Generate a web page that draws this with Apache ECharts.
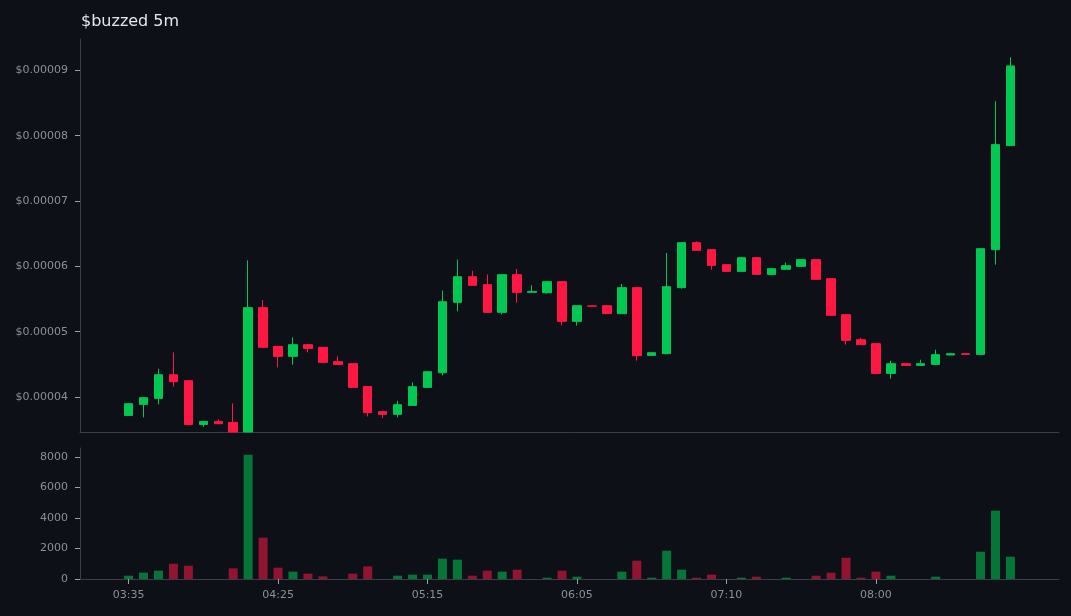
<!DOCTYPE html>
<html><head><meta charset="utf-8">
<script src="https://cdn.jsdelivr.net/npm/echarts@6/dist/echarts.min.js"></script>
<style>html,body{margin:0;padding:0;background:#0d1017;}#c{width:1071px;height:616px;}</style>
</head><body><div id="c"></div>
<script>
const times = ['03:35','03:40','03:45','03:50','03:55','04:00','04:05','04:10','04:15','04:20',
  '04:25','04:30','04:35','04:40','04:45','04:50','04:55','05:00','05:05','05:10',
  '05:15','05:20','05:25','05:30','05:35','05:40','05:45','05:50','05:55','06:00',
  '06:05','06:10','06:15','06:20','06:25','06:35','06:40','06:45','06:55','07:00',
  '07:10','07:15','07:20','07:25','07:30','07:35','07:40','07:45','07:50','07:55',
  '08:00','08:05','08:10','08:15','08:20','08:25','08:30','08:35','08:40','08:45'];
const opens = [3.718e-5,3.887e-5,3.979e-5,4.341e-5,4.250e-5,3.580e-5,3.626e-5,3.611e-5,3.464e-5,5.368e-5,
  4.775e-5,4.622e-5,4.801e-5,4.760e-5,4.541e-5,4.510e-5,4.162e-5,3.775e-5,3.734e-5,3.871e-5,
  4.147e-5,4.372e-5,5.449e-5,5.842e-5,5.720e-5,5.296e-5,5.873e-5,5.602e-5,5.597e-5,5.766e-5,
  5.158e-5,5.395e-5,5.398e-5,5.276e-5,5.674e-5,4.637e-5,4.663e-5,5.674e-5,6.363e-5,6.256e-5,
  6.026e-5,5.923e-5,6.133e-5,5.877e-5,5.954e-5,6.000e-5,6.103e-5,5.812e-5,5.260e-5,4.877e-5,
  4.816e-5,4.361e-5,4.510e-5,4.484e-5,4.499e-5,4.643e-5,4.663e-5,4.652e-5,6.256e-5,7.848e-5];
const highs = [3.900e-5,3.990e-5,4.433e-5,4.683e-5,4.252e-5,3.628e-5,3.657e-5,3.902e-5,6.092e-5,5.485e-5,
  4.777e-5,4.913e-5,4.816e-5,4.762e-5,4.622e-5,4.512e-5,4.164e-5,3.777e-5,3.943e-5,4.224e-5,
  4.389e-5,5.632e-5,6.103e-5,5.934e-5,5.877e-5,5.875e-5,5.960e-5,5.709e-5,5.768e-5,5.768e-5,
  5.400e-5,5.397e-5,5.400e-5,5.730e-5,5.676e-5,4.680e-5,6.205e-5,6.365e-5,6.383e-5,6.258e-5,
  6.028e-5,6.135e-5,6.135e-5,5.967e-5,6.061e-5,6.105e-5,6.105e-5,5.814e-5,5.262e-5,4.904e-5,
  4.818e-5,4.556e-5,4.512e-5,4.571e-5,4.724e-5,4.665e-5,4.665e-5,6.273e-5,8.527e-5,9.201e-5];
const lows = [3.715e-5,3.688e-5,3.887e-5,4.158e-5,3.578e-5,3.545e-5,3.585e-5,3.464e-5,3.464e-5,4.758e-5,
  4.453e-5,4.495e-5,4.683e-5,4.528e-5,4.497e-5,4.145e-5,3.702e-5,3.678e-5,3.688e-5,3.869e-5,
  4.145e-5,4.331e-5,5.311e-5,5.707e-5,5.294e-5,5.265e-5,5.444e-5,5.600e-5,5.582e-5,5.096e-5,
  5.092e-5,5.388e-5,5.274e-5,5.274e-5,4.556e-5,4.635e-5,4.661e-5,5.658e-5,6.243e-5,5.949e-5,
  5.921e-5,5.921e-5,5.875e-5,5.875e-5,5.952e-5,5.998e-5,5.799e-5,5.248e-5,4.801e-5,4.799e-5,
  4.359e-5,4.280e-5,4.482e-5,4.482e-5,4.497e-5,4.641e-5,4.650e-5,4.650e-5,6.026e-5,7.846e-5];
const closes = [3.897e-5,3.989e-5,4.341e-5,4.234e-5,3.580e-5,3.626e-5,3.591e-5,3.464e-5,5.368e-5,4.760e-5,
  4.622e-5,4.801e-5,4.744e-5,4.530e-5,4.499e-5,4.147e-5,3.760e-5,3.734e-5,3.882e-5,4.158e-5,
  4.387e-5,5.459e-5,5.842e-5,5.709e-5,5.296e-5,5.873e-5,5.602e-5,5.617e-5,5.766e-5,5.158e-5,
  5.398e-5,5.390e-5,5.276e-5,5.674e-5,4.632e-5,4.678e-5,5.689e-5,6.363e-5,6.245e-5,6.015e-5,
  5.923e-5,6.133e-5,5.877e-5,5.965e-5,6.011e-5,6.103e-5,5.801e-5,5.250e-5,4.867e-5,4.801e-5,
  4.361e-5,4.510e-5,4.484e-5,4.510e-5,4.648e-5,4.663e-5,4.652e-5,6.271e-5,7.864e-5,9.069e-5];
const volumes = [218,415,546,1005,874,0,0,699,8150,2710,
  743,481,350,175,0,350,830,0,218,284,
  284,1333,1268,218,546,481,612,0,87,546,
  153,0,0,481,1200,87,1856,612,87,284,
  0,87,153,0,87,0,218,415,1398,87,
  481,218,0,0,153,0,0,1790,4480,1462];
const priceTicks = [0.00004,0.00005,0.00006,0.00007,0.00008,0.00009];
const volumeTicks = [0,2000,4000,6000,8000];
const timeTickIndex = [0,10,20,30,40,50];

const UP = '#00c853', DOWN = '#ff1744';
const UP_VOL = '#067538', DOWN_VOL = '#921430';
const LABEL = '#8b8f97', LINE = '#3a3e46', FONT = 'DejaVu Sans';

const candleData = times.map((t, i) => [i, opens[i], closes[i], lows[i], highs[i]]);
const volData = times.map((t, i) => ({
  value: [i, volumes[i]],
  itemStyle: { color: closes[i] >= opens[i] ? UP_VOL : DOWN_VOL }
}));
const lastClose = closes[closes.length - 1];

const chart = echarts.init(document.getElementById('c'), null, { renderer: 'canvas' });
chart.setOption({
  backgroundColor: '#0d1017',
  animation: false,
  title: { text: '$buzzed 5m', left: 76, top: 9,
    textStyle: { color: '#e4e6ea', fontSize: 16, fontWeight: 'normal', fontFamily: FONT } },
  grid: [
    { left: 80, right: 12, top: 39, height: 393 },
    { left: 80, right: 12, top: 448, height: 131 }
  ],
  xAxis: [
    { type: 'value', gridIndex: 0, min: -3.25, max: 62.25,
      axisLine: { show: true, onZero: false, lineStyle: { color: LINE } },
      axisTick: { show: false }, axisLabel: { show: false }, splitLine: { show: false } },
    { type: 'value', gridIndex: 1, min: -3.25, max: 62.25,
      axisLine: { show: true, onZero: false, lineStyle: { color: LINE } },
      axisTick: { show: true, length: 5, customValues: timeTickIndex, lineStyle: { color: '#9a9ea6' } },
      axisLabel: { show: true, customValues: timeTickIndex, margin: 11, color: LABEL, fontSize: 11, fontFamily: FONT,
        formatter: v => times[Math.round(v)] || '' },
      splitLine: { show: false } }
  ],
  yAxis: [
    { type: 'value', gridIndex: 0, min: 3.464e-5, max: 9.481e-5,
      axisLine: { show: true, onZero: false, lineStyle: { color: LINE } },
      axisTick: { show: true, length: 5, customValues: priceTicks, lineStyle: { color: '#9a9ea6' } },
      axisLabel: { customValues: priceTicks, margin: 12, color: LABEL, fontSize: 11, fontFamily: FONT,
        formatter: v => '$' + v.toFixed(5) },
      splitLine: { show: false } },
    { type: 'value', gridIndex: 1, min: 0, max: 8590,
      axisLine: { show: true, onZero: false, lineStyle: { color: LINE } },
      axisTick: { show: true, length: 5, customValues: volumeTicks, lineStyle: { color: '#9a9ea6' } },
      axisLabel: { customValues: volumeTicks, margin: 12, color: LABEL, fontSize: 11, fontFamily: FONT,
        formatter: v => String(Math.round(v)) },
      splitLine: { show: false } }
  ],
  series: [
    { type: 'candlestick', xAxisIndex: 0, yAxisIndex: 0, data: candleData, barWidth: 9,
      itemStyle: { color: UP, color0: DOWN, borderColor: UP, borderColor0: DOWN, borderWidth: 1 },
      markLine: { silent: true, symbol: ['none', 'none'], label: { show: false },
        lineStyle: { type: [4, 3], color: '#d4a52a', width: 1 },
        data: [{ yAxis: lastClose }] } },
    { type: 'bar', xAxisIndex: 1, yAxisIndex: 1, data: volData, barWidth: 9 }
  ]
});
</script>
</body></html>
